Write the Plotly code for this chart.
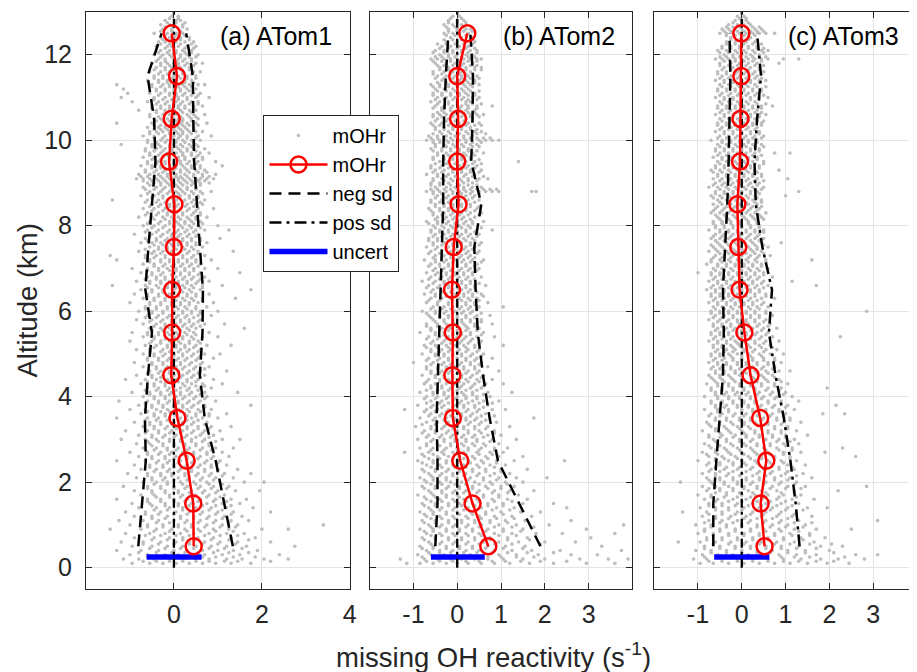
import plotly.graph_objects as go

# ---------------- data ----------------
ALT_BINS = [0.5, 1.5, 2.5, 3.5, 4.5, 5.5, 6.5, 7.5, 8.5, 9.5, 10.5, 11.5, 12.5]

A_MEAN = [0.45, 0.44, 0.29, 0.08, -0.06, -0.04, -0.04, 0.0, 0.01, -0.11, -0.05, 0.07, -0.05]
A_NEG = [-0.81, -0.73, -0.64, -0.66, -0.59, -0.5, -0.65, -0.58, -0.5, -0.42, -0.45, -0.6, -0.28]
A_POS = [1.34, 1.14, 0.95, 0.7, 0.59, 0.65, 0.66, 0.59, 0.53, 0.46, 0.44, 0.43, 0.28]

B_MEAN = [0.71, 0.35, 0.07, -0.10, -0.11, -0.10, -0.12, -0.08, 0.03, 0.0, 0.02, 0.0, 0.23]
B_NEG = [-0.5, -0.45, -0.45, -0.47, -0.44, -0.41, -0.38, -0.35, -0.32, -0.32, -0.30, -0.26, -0.20]
B_POS = [1.9, 1.41, 0.93, 0.74, 0.59, 0.47, 0.42, 0.39, 0.55, 0.32, 0.35, 0.36, 0.30]

C_MEAN = [0.52, 0.43, 0.56, 0.42, 0.2, 0.06, -0.05, -0.08, -0.1, -0.04, -0.03, -0.01, -0.01]
C_NEG = [-0.65, -0.65, -0.58, -0.5, -0.43, -0.41, -0.43, -0.38, -0.33, -0.3, -0.28, -0.26, -0.28]
C_POS = [1.32, 1.23, 1.11, 0.96, 0.77, 0.62, 0.69, 0.47, 0.32, 0.29, 0.35, 0.44, 0.35]

UNC_ALT = 0.25
A_UNC = [-0.62, 0.63]
B_UNC = [-0.60, 0.63]
C_UNC = [-0.63, 0.63]

ZERO_X = [0, 0]
ZERO_Y = [0, 13]

PANEL_LABELS = ["(a) ATom1", "(b) ATom2", "(c) ATom3"]
A_TICKS = [0, 2, 4]
A_TICKTEXT = ["0", "2", "4"]
BC_TICKS = [-1, 0, 1, 2, 3]
BC_TICKTEXT = ["-1", "0", "1", "2", "3"]
Y_TICKS = [0, 2, 4, 6, 8, 10, 12]

# individual mOHr points: each row = [altitude, x values...]
A_ROWS = [
    [12.9, -0.05, 0.1], [12.8, -0.2, 0.05, 0.15], [12.7, -0.3, -0.1, 0.0, 0.2],
    [12.6, -0.25, -0.05, 0.1, 0.3], [12.5, -0.45, -0.15, 0.05, 0.2],
    [12.4, -0.3, -0.1, 0.0, 0.15, 0.35], [12.3, -0.35, -0.2, 0.05, 0.25, 0.45],
    [12.2, -0.4, -0.15, -0.05, 0.1, 0.3, 0.5], [12.1, -0.3, -0.1, 0.05, 0.2, 0.4],
    [12.0, -0.45, -0.25, -0.1, 0.0, 0.15, 0.3, 0.55], [11.9, -0.35, -0.2, 0.1, 0.25, 0.4],
    [11.8, -0.5, -0.3, -0.15, 0.0, 0.1, 0.3, 0.5, 0.65], [11.7, -0.4, -0.2, -0.05, 0.15, 0.35],
    [11.6, -0.55, -0.3, -0.1, 0.05, 0.2, 0.45, 0.6], [11.5, -0.45, -0.25, 0.0, 0.1, 0.3, 0.5],
    [11.4, -0.6, -0.35, -0.15, 0.05, 0.25, 0.4],
    [11.3, -1.3, -0.5, -0.25, -0.1, 0.1, 0.2, 0.35, 0.55, 0.7],
    [11.2, -1.15, -0.4, -0.2, 0.0, 0.15, 0.3, 0.5],
    [11.1, -1.05, -0.55, -0.3, -0.1, 0.05, 0.25, 0.45, 0.6],
    [11.0, -1.2, -0.45, -0.2, 0.0, 0.1, 0.3, 0.5, 0.8],
    [10.9, -0.95, -0.6, -0.35, -0.15, 0.05, 0.2, 0.4, 0.55],
    [10.8, -0.5, -0.3, -0.1, 0.1, 0.25, 0.45, 0.65],
    [10.7, -0.8, -0.4, -0.2, 0.0, 0.15, 0.35, 0.5],
    [10.6, -0.55, -0.25, -0.1, 0.05, 0.3, 0.45, 0.7],
    [10.5, -0.45, -0.3, -0.15, 0.0, 0.1, 0.2, 0.4, 0.55],
    [10.4, -1.3, -0.5, -0.2, -0.05, 0.15, 0.3, 0.5, 0.75],
    [10.3, -0.6, -0.35, -0.2, 0.0, 0.1, 0.25, 0.45],
    [10.2, -0.55, -0.4, -0.25, -0.1, 0.05, 0.2, 0.35, 0.5, 0.65],
    [10.1, -0.7, -0.45, -0.2, 0.0, 0.15, 0.3, 0.55, 0.85],
    [10.0, -0.6, -0.3, -0.15, 0.05, 0.2, 0.4, 0.6],
    [9.9, -1.2, -0.5, -0.35, -0.1, 0.0, 0.15, 0.35, 0.5],
    [9.8, -0.65, -0.4, -0.2, -0.05, 0.1, 0.3, 0.45, 0.7],
    [9.7, -0.55, -0.3, -0.15, 0.05, 0.2, 0.4, 0.6, 0.8],
    [9.6, -0.7, -0.45, -0.25, -0.1, 0.1, 0.25, 0.5, 0.65],
    [9.5, -0.6, -0.35, -0.2, 0.0, 0.15, 0.35, 0.55, 0.95],
    [9.4, -0.75, -0.5, -0.3, -0.1, 0.05, 0.2, 0.4, 0.6, 1.1],
    [9.3, -0.65, -0.4, -0.2, 0.0, 0.15, 0.3, 0.5, 0.7],
    [9.2, -0.8, -0.55, -0.35, -0.15, 0.05, 0.25, 0.45, 0.65, 0.95],
    [9.1, -0.85, -0.7, -0.55, -0.4, -0.25, -0.1, 0.0, 0.1, 0.2, 0.35, 0.5, 0.6, 0.75, 0.9],
    [9.0, -0.6, -0.45, -0.3, -0.15, 0.0, 0.15, 0.3, 0.45, 0.6, 0.8],
    [8.9, -0.7, -0.4, -0.2, -0.05, 0.1, 0.3, 0.5],
    [8.8, -0.55, -0.3, -0.1, 0.05, 0.2, 0.4, 0.6, 0.85],
    [8.7, -0.75, -0.45, -0.25, 0.0, 0.15, 0.35, 0.55],
    [8.6, -1.4, -0.6, -0.35, -0.15, 0.05, 0.25, 0.45, 0.7],
    [8.5, -0.5, -0.3, -0.1, 0.1, 0.3, 0.5, 0.65],
    [8.4, -0.7, -0.45, -0.2, 0.0, 0.15, 0.35, 0.55, 0.9],
    [8.3, -0.6, -0.35, -0.15, 0.05, 0.2, 0.45, 0.6],
    [8.2, -0.8, -0.5, -0.25, -0.05, 0.1, 0.3, 0.5, 0.75],
    [8.1, -0.55, -0.3, -0.1, 0.05, 0.25, 0.4, 0.6],
    [8.0, -0.7, -0.45, -0.2, 0.0, 0.15, 0.35, 0.55, 1.0],
    [7.9, -0.6, -0.35, -0.1, 0.1, 0.3, 0.5, 0.7, 1.25],
    [7.8, -0.9, -0.5, -0.25, -0.05, 0.15, 0.35, 0.55],
    [7.7, -0.65, -0.4, -0.15, 0.05, 0.2, 0.4, 0.6, 1.05],
    [7.6, -0.75, -0.5, -0.3, -0.1, 0.1, 0.3, 0.5, 0.75],
    [7.5, -0.55, -0.35, -0.15, 0.0, 0.2, 0.4, 0.65],
    [7.4, -0.8, -0.45, -0.25, -0.05, 0.15, 0.35, 0.55, 1.35],
    [7.3, -1.45, -0.65, -0.4, -0.2, 0.0, 0.2, 0.45, 0.7],
    [7.2, -1.3, -0.55, -0.3, -0.1, 0.1, 0.3, 0.5, 0.85],
    [7.1, -0.7, -0.45, -0.2, 0.0, 0.2, 0.4, 0.6],
    [7.0, -0.95, -0.6, -0.35, -0.15, 0.05, 0.25, 0.45, 0.7, 1.0],
    [6.9, -0.75, -0.5, -0.25, 0.0, 0.15, 0.35, 0.6, 1.5],
    [6.8, -0.6, -0.4, -0.2, 0.05, 0.25, 0.45, 0.7],
    [6.7, -0.85, -0.55, -0.3, -0.1, 0.1, 0.3, 0.55, 0.8],
    [6.6, -1.4, -0.65, -0.4, -0.15, 0.05, 0.2, 0.4, 0.65, 1.1],
    [6.5, -0.75, -0.5, -0.25, 0.0, 0.15, 0.35, 0.6, 1.75],
    [6.4, -0.9, -0.6, -0.35, -0.1, 0.1, 0.3, 0.5, 0.8],
    [6.3, -0.7, -0.45, -0.2, 0.0, 0.2, 0.4, 0.65, 1.4],
    [6.2, -1.0, -0.55, -0.3, -0.05, 0.15, 0.35, 0.55, 0.9],
    [6.1, -0.65, -0.4, -0.15, 0.05, 0.25, 0.5, 0.75],
    [6.0, -0.8, -0.5, -0.25, 0.0, 0.2, 0.4, 0.6, 1.0],
    [5.9, -0.6, -0.35, -0.1, 0.1, 0.3, 0.55, 0.85],
    [5.8, -0.85, -0.5, -0.25, -0.05, 0.15, 0.35, 0.6],
    [5.7, -0.7, -0.4, -0.2, 0.05, 0.25, 0.45, 0.7, 1.15],
    [5.6, -0.55, -0.3, -0.1, 0.1, 0.3, 0.5, 1.6],
    [5.5, -0.95, -0.6, -0.35, -0.15, 0.05, 0.25, 0.45, 0.8],
    [5.4, -0.7, -0.45, -0.2, 0.0, 0.2, 0.4, 0.65, 1.0],
    [5.3, -1.0, -0.5, -0.3, -0.1, 0.1, 0.35, 0.55],
    [5.2, -0.65, -0.4, -0.15, 0.05, 0.25, 0.5, 0.75, 1.3],
    [5.1, -0.85, -0.55, -0.25, -0.05, 0.15, 0.35, 0.6],
    [5.0, -0.7, -0.45, -0.2, 0.0, 0.2, 0.45, 0.7, 1.05],
    [4.9, -0.6, -0.35, -0.1, 0.1, 0.3, 0.55, 0.9],
    [4.8, -0.9, -0.5, -0.25, -0.05, 0.15, 0.4, 0.65],
    [4.7, -0.7, -0.4, -0.15, 0.05, 0.25, 0.5, 0.8],
    [4.6, -0.55, -0.3, -0.1, 0.1, 0.35, 0.6, 1.2],
    [4.5, -0.85, -0.5, -0.25, 0.0, 0.2, 0.45, 0.7],
    [4.4, -1.1, -0.65, -0.4, -0.15, 0.05, 0.3, 0.55, 0.9],
    [4.3, -0.75, -0.45, -0.2, 0.0, 0.2, 0.4, 0.65, 1.1],
    [4.2, -0.6, -0.35, -0.1, 0.15, 0.35, 0.6, 0.85],
    [4.1, -0.95, -0.55, -0.3, -0.05, 0.15, 0.4, 0.7, 1.45],
    [4.0, -0.7, -0.45, -0.2, 0.05, 0.25, 0.5, 0.75],
    [3.9, -1.25, -0.6, -0.35, -0.1, 0.1, 0.35, 0.6, 0.95],
    [3.8, -0.8, -0.5, -0.25, 0.0, 0.2, 0.45, 0.7, 1.75],
    [3.7, -1.0, -0.65, -0.4, -0.15, 0.1, 0.3, 0.55, 0.85],
    [3.6, -0.75, -0.45, -0.2, 0.05, 0.25, 0.5, 0.8, 1.2],
    [3.5, -1.3, -0.6, -0.35, -0.1, 0.15, 0.4, 0.65, 1.0],
    [3.4, -0.9, -0.55, -0.3, 0.0, 0.2, 0.45, 0.75],
    [3.3, -0.7, -0.45, -0.15, 0.1, 0.3, 0.55, 0.85, 1.3],
    [3.2, -1.1, -0.6, -0.35, -0.05, 0.2, 0.45, 0.7, 1.05],
    [3.1, -0.8, -0.5, -0.2, 0.05, 0.3, 0.6, 0.9],
    [3.0, -1.2, -0.65, -0.4, -0.1, 0.15, 0.4, 0.7, 1.1, 1.5],
    [2.9, -0.85, -0.55, -0.25, 0.0, 0.25, 0.5, 0.8],
    [2.8, -0.7, -0.4, -0.15, 0.1, 0.35, 0.65, 0.95, 1.35],
    [2.7, -1.0, -0.6, -0.3, -0.05, 0.2, 0.45, 0.75, 1.1],
    [2.6, -0.8, -0.5, -0.2, 0.05, 0.3, 0.6, 0.9, 1.25],
    [2.5, -1.3, -0.65, -0.35, -0.1, 0.15, 0.45, 0.75, 1.05],
    [2.4, -0.9, -0.55, -0.25, 0.0, 0.3, 0.6, 0.85, 1.2],
    [2.3, -0.75, -0.4, -0.1, 0.15, 0.4, 0.7, 1.0, 1.45],
    [2.2, -1.05, -0.6, -0.3, -0.05, 0.25, 0.55, 0.85, 1.15, 1.75],
    [2.1, -0.85, -0.5, -0.2, 0.1, 0.35, 0.65, 0.95, 1.35],
    [2.0, -0.7, -0.4, -0.15, 0.15, 0.45, 0.75, 1.05, 1.6, 2.05],
    [1.9, -1.15, -0.6, -0.3, 0.0, 0.3, 0.6, 0.9, 1.25],
    [1.8, -0.9, -0.5, -0.2, 0.1, 0.4, 0.7, 1.0, 1.4, 1.95],
    [1.7, -0.75, -0.45, -0.1, 0.2, 0.5, 0.8, 1.15],
    [1.6, -1.3, -0.6, -0.3, 0.0, 0.3, 0.6, 0.95, 1.3, 1.65],
    [1.5, -0.95, -0.55, -0.2, 0.1, 0.4, 0.75, 1.1, 1.5],
    [1.4, -0.8, -0.4, -0.1, 0.2, 0.5, 0.85, 1.2, 1.8],
    [1.3, -1.1, -0.65, -0.3, 0.05, 0.35, 0.65, 1.0, 1.35, 2.2],
    [1.2, -0.9, -0.5, -0.15, 0.15, 0.45, 0.8, 1.15, 1.55],
    [1.1, -1.25, -0.7, -0.35, 0.0, 0.3, 0.6, 0.95, 1.3, 1.7],
    [1.0, -1.0, -0.6, -0.25, 0.1, 0.4, 0.75, 1.1, 1.45, 3.4],
    [0.9, -1.45, -0.75, -0.4, -0.05, 0.25, 0.55, 0.9, 1.25, 2.0, 2.6],
    [0.8, -1.1, -0.55, -0.2, 0.15, 0.45, 0.8, 1.2, 1.6],
    [0.7, -0.9, -0.45, -0.1, 0.2, 0.55, 0.9, 1.3, 1.85],
    [0.6, -1.2, -0.7, -0.3, 0.05, 0.35, 0.7, 1.05, 1.45, 2.2],
    [0.5, -0.95, -0.5, -0.15, 0.2, 0.5, 0.85, 1.2, 1.65, 2.75],
    [0.4, -1.3, -0.75, -0.35, 0.0, 0.3, 0.65, 1.0, 1.35, 1.9],
    [0.3, -1.0, -0.6, -0.2, 0.1, 0.4, 0.7, 1.1, 1.5, 2.4],
    [0.2, -1.15, -0.8, -0.45, -0.1, 0.2, 0.5, 0.8, 1.2, 1.55, 2.05, 2.6],
    [0.1, -0.95, -0.55, -0.25, 0.05, 0.35, 0.65, 0.95, 1.3, 1.75],
]

A_CORE_ROWS = [
    [12.85, -0.1, 0.1], [12.75, -0.15, 0.05, 0.25], [12.65, -0.2, 0.0, 0.2],
    [12.55, -0.3, -0.05, 0.15], [12.45, -0.2, 0.05, 0.25], [12.35, -0.25, -0.05, 0.15, 0.35],
    [12.25, -0.3, -0.1, 0.15, 0.4], [12.15, -0.2, 0.0, 0.25, 0.45],
    [12.05, -0.35, -0.15, 0.05, 0.25, 0.4], [11.95, -0.3, -0.05, 0.15, 0.35, 0.5],
    [11.85, -0.4, -0.2, 0.05, 0.2, 0.4], [11.75, -0.3, -0.1, 0.1, 0.25, 0.45],
    [11.65, -0.45, -0.2, 0.0, 0.15, 0.35], [11.55, -0.35, -0.15, 0.05, 0.2, 0.4],
    [11.45, -0.45, -0.25, -0.05, 0.15, 0.3, 0.5], [11.35, -0.35, -0.15, 0.05, 0.25, 0.45],
    [11.25, -0.5, -0.3, -0.1, 0.1, 0.25, 0.4], [11.15, -0.4, -0.2, 0.0, 0.15, 0.35],
    [11.05, -0.35, -0.1, 0.05, 0.2, 0.4, 0.55], [10.95, -0.45, -0.25, -0.05, 0.1, 0.3],
    [10.85, -0.4, -0.2, 0.0, 0.15, 0.35, 0.55], [10.75, -0.5, -0.3, -0.1, 0.1, 0.25, 0.45],
    [10.65, -0.4, -0.2, 0.0, 0.2, 0.4], [10.55, -0.55, -0.35, -0.05, 0.15, 0.35, 0.5],
    [10.45, -0.4, -0.25, -0.1, 0.05, 0.2, 0.4],
    [10.35, -0.45, -0.3, -0.1, 0.05, 0.2, 0.35, 0.55],
    [10.25, -0.45, -0.3, -0.15, 0.0, 0.15, 0.3, 0.45],
    [10.15, -0.55, -0.35, -0.1, 0.1, 0.2, 0.4], [10.05, -0.45, -0.25, -0.05, 0.1, 0.3, 0.5],
    [9.95, -0.6, -0.4, -0.2, 0.05, 0.25, 0.45], [9.85, -0.5, -0.3, -0.1, 0.05, 0.2, 0.4, 0.55],
    [9.75, -0.65, -0.45, -0.25, -0.05, 0.15, 0.3, 0.5],
    [9.65, -0.55, -0.35, -0.15, 0.0, 0.2, 0.4, 0.55],
    [9.55, -0.5, -0.3, -0.1, 0.1, 0.25, 0.45, 0.65],
    [9.45, -0.6, -0.4, -0.2, 0.0, 0.15, 0.3, 0.5],
    [9.35, -0.5, -0.3, -0.1, 0.05, 0.25, 0.4, 0.6],
    [9.25, -0.65, -0.45, -0.25, -0.05, 0.15, 0.35, 0.55, 0.75],
    [9.15, -0.75, -0.6, -0.45, -0.3, -0.15, 0.05, 0.15, 0.3, 0.45, 0.65, 0.8],
    [9.05, -0.7, -0.5, -0.35, -0.2, -0.05, 0.1, 0.25, 0.4, 0.55, 0.7],
    [8.95, -0.55, -0.3, -0.1, 0.05, 0.2, 0.4, 0.6],
    [8.85, -0.65, -0.45, -0.25, -0.05, 0.15, 0.3, 0.5],
    [8.75, -0.6, -0.35, -0.15, 0.1, 0.25, 0.45, 0.65],
    [8.65, -0.5, -0.25, -0.05, 0.1, 0.35, 0.55],
    [8.55, -0.65, -0.4, -0.2, 0.0, 0.2, 0.4, 0.6],
    [8.45, -0.55, -0.35, -0.1, 0.05, 0.25, 0.45], [8.35, -0.5, -0.25, -0.05, 0.1, 0.3, 0.5],
    [8.25, -0.65, -0.4, -0.15, 0.0, 0.2, 0.4, 0.6], [8.15, -0.45, -0.2, 0.0, 0.15, 0.35, 0.5],
    [8.05, -0.6, -0.35, -0.1, 0.1, 0.25, 0.45, 0.65], [7.95, -0.5, -0.25, 0.0, 0.2, 0.4, 0.6],
    [7.85, -0.65, -0.4, -0.15, 0.05, 0.25, 0.45], [7.75, -0.55, -0.3, -0.05, 0.1, 0.3, 0.5],
    [7.65, -0.6, -0.4, -0.2, 0.0, 0.2, 0.4, 0.6], [7.55, -0.45, -0.25, -0.05, 0.1, 0.3, 0.5],
    [7.45, -0.65, -0.35, -0.15, 0.05, 0.25, 0.45], [7.35, -0.5, -0.3, -0.1, 0.1, 0.3, 0.55],
    [7.25, -0.65, -0.45, -0.2, 0.0, 0.2, 0.4], [7.15, -0.55, -0.3, -0.1, 0.1, 0.3, 0.5],
    [7.05, -0.45, -0.25, -0.05, 0.15, 0.35, 0.55], [6.95, -0.6, -0.35, -0.1, 0.05, 0.25, 0.45],
    [6.85, -0.5, -0.3, -0.05, 0.15, 0.35, 0.55], [6.75, -0.65, -0.4, -0.2, 0.0, 0.2, 0.4, 0.6],
    [6.65, -0.55, -0.3, -0.05, 0.1, 0.3, 0.5], [6.55, -0.6, -0.35, -0.15, 0.05, 0.25, 0.45, 0.65],
    [6.45, -0.5, -0.25, 0.0, 0.2, 0.4], [6.35, -0.6, -0.35, -0.1, 0.1, 0.3, 0.5],
    [6.25, -0.45, -0.2, 0.05, 0.25, 0.45, 0.65], [6.15, -0.55, -0.3, -0.05, 0.15, 0.35],
    [6.05, -0.65, -0.4, -0.15, 0.1, 0.3, 0.5], [5.95, -0.5, -0.25, 0.0, 0.2, 0.4, 0.6],
    [5.85, -0.65, -0.4, -0.15, 0.05, 0.25, 0.45], [5.75, -0.55, -0.3, -0.05, 0.15, 0.35, 0.55],
    [5.65, -0.45, -0.2, 0.0, 0.2, 0.4, 0.6], [5.55, -0.5, -0.25, -0.05, 0.15, 0.35],
    [5.45, -0.6, -0.35, -0.1, 0.1, 0.3, 0.5], [5.35, -0.45, -0.2, 0.0, 0.2, 0.45],
    [5.25, -0.55, -0.3, -0.05, 0.15, 0.35, 0.6], [5.15, -0.45, -0.15, 0.05, 0.25, 0.45],
    [5.05, -0.55, -0.3, -0.1, 0.1, 0.3, 0.55], [4.95, -0.45, -0.25, 0.0, 0.2, 0.4, 0.6],
    [4.85, -0.6, -0.35, -0.15, 0.05, 0.25, 0.5], [4.75, -0.5, -0.25, -0.05, 0.15, 0.35, 0.6],
    [4.65, -0.4, -0.2, 0.0, 0.2, 0.45, 0.7], [4.55, -0.6, -0.35, -0.1, 0.1, 0.3, 0.55],
    [4.45, -0.5, -0.3, -0.05, 0.15, 0.4, 0.6], [4.35, -0.6, -0.3, -0.1, 0.1, 0.3, 0.5],
    [4.25, -0.45, -0.2, 0.0, 0.25, 0.5, 0.7], [4.15, -0.65, -0.4, -0.15, 0.05, 0.3, 0.55],
    [4.05, -0.55, -0.3, -0.1, 0.15, 0.35, 0.6], [3.95, -0.45, -0.2, 0.0, 0.2, 0.45, 0.7],
    [3.85, -0.65, -0.35, -0.15, 0.1, 0.3, 0.55], [3.75, -0.5, -0.25, 0.0, 0.2, 0.4, 0.7],
    [3.65, -0.6, -0.3, -0.1, 0.15, 0.35, 0.6], [3.55, -0.45, -0.2, 0.05, 0.3, 0.5, 0.8],
    [3.45, -0.65, -0.4, -0.15, 0.1, 0.3, 0.55], [3.35, -0.55, -0.3, -0.05, 0.2, 0.4, 0.7],
    [3.25, -0.45, -0.2, 0.05, 0.3, 0.55, 0.8], [3.15, -0.65, -0.35, -0.1, 0.15, 0.4, 0.65],
    [3.05, -0.5, -0.25, 0.0, 0.25, 0.5, 0.8], [2.95, -0.6, -0.35, -0.1, 0.15, 0.4, 0.65, 0.95],
    [2.85, -0.5, -0.25, 0.0, 0.25, 0.5, 0.8], [2.75, -0.45, -0.15, 0.05, 0.3, 0.6, 0.85],
    [2.65, -0.6, -0.35, -0.1, 0.2, 0.45, 0.75], [2.55, -0.5, -0.2, 0.0, 0.3, 0.55, 0.85],
    [2.45, -0.4, -0.15, 0.1, 0.4, 0.7, 1.0], [2.35, -0.55, -0.25, 0.0, 0.25, 0.55, 0.85],
    [2.25, -0.45, -0.15, 0.1, 0.4, 0.7, 1.0], [2.15, -0.6, -0.3, -0.05, 0.25, 0.5, 0.8, 1.1],
    [2.05, -0.5, -0.25, 0.0, 0.3, 0.6, 0.9], [1.95, -0.45, -0.15, 0.2, 0.5, 0.8, 1.1],
    [1.85, -0.6, -0.3, 0.0, 0.25, 0.55, 0.85, 1.2], [1.75, -0.5, -0.2, 0.1, 0.35, 0.65, 0.95],
    [1.65, -0.4, -0.1, 0.15, 0.45, 0.75, 1.05], [1.55, -0.6, -0.3, 0.0, 0.25, 0.55, 0.9, 1.2],
    [1.45, -0.5, -0.2, 0.1, 0.35, 0.65, 0.95, 1.3], [1.35, -0.45, -0.15, 0.2, 0.5, 0.8, 1.1],
    [1.25, -0.65, -0.35, 0.0, 0.3, 0.6, 0.95, 1.3], [1.15, -0.5, -0.2, 0.15, 0.45, 0.75, 1.1],
    [1.05, -0.4, -0.1, 0.25, 0.55, 0.9, 1.25], [0.95, -0.6, -0.25, 0.1, 0.4, 0.7, 1.05, 1.4],
    [0.85, -0.45, -0.1, 0.3, 0.6, 0.95, 1.35], [0.75, -0.65, -0.3, 0.05, 0.35, 0.7, 1.05, 1.45],
    [0.65, -0.5, -0.15, 0.2, 0.5, 0.85, 1.25, 1.7], [0.55, -0.7, -0.35, 0.0, 0.35, 0.65, 1.0, 1.4],
    [0.45, -0.55, -0.2, 0.15, 0.45, 0.8, 1.15, 1.55],
    [0.35, -0.8, -0.4, -0.05, 0.25, 0.55, 0.9, 1.25, 1.7],
    [0.25, -0.6, -0.3, 0.0, 0.3, 0.65, 0.95, 1.35, 1.85],
    [0.15, -0.7, -0.4, -0.1, 0.2, 0.5, 0.8, 1.15, 1.45, 2.2],
]

B_ROWS = [
    [12.9, -0.1, 0.05], [12.8, -0.2, 0.0, 0.15], [12.7, -0.3, -0.1, 0.1],
    [12.6, -0.2, 0.0, 0.2, 0.3], [12.5, -0.3, -0.1, 0.05, 0.25], [12.4, -0.15, 0.1, 0.35],
    [12.3, -0.25, 0.0, 0.2, 0.4], [12.2, -0.35, -0.15, 0.05, 0.25],
    [12.1, -0.5, -0.3, -0.1, 0.1, 0.3, 0.45], [12.0, -0.4, -0.2, 0.0, 0.2, 0.35],
    [11.9, -0.6, -0.45, -0.3, -0.15, 0.0, 0.15, 0.3, 0.45, 0.55],
    [11.8, -0.5, -0.25, -0.05, 0.15, 0.35], [11.7, -0.4, -0.2, 0.0, 0.2, 0.4, 0.55],
    [11.6, -0.55, -0.3, -0.1, 0.1, 0.3], [11.5, -0.45, -0.25, -0.05, 0.1, 0.25, 0.45],
    [11.4, -0.35, -0.15, 0.05, 0.2, 0.4], [11.3, -0.6, -0.4, -0.2, 0.0, 0.15, 0.3, 0.5],
    [11.2, -0.5, -0.3, -0.1, 0.1, 0.25], [11.1, -0.55, -0.35, -0.15, 0.05, 0.2, 0.4],
    [11.0, -0.45, -0.25, -0.05, 0.15, 0.35, 0.5], [10.9, -0.6, -0.4, -0.2, 0.0, 0.2, 0.3],
    [10.8, -0.5, -0.3, -0.1, 0.1, 0.25, 0.45, 0.8], [10.7, -0.35, -0.15, 0.05, 0.2, 0.4],
    [10.6, -0.55, -0.4, -0.25, -0.1, 0.0, 0.15, 0.3, 0.45, 0.6],
    [10.5, -0.45, -0.2, 0.0, 0.2, 0.35], [10.4, -0.6, -0.35, -0.15, 0.05, 0.25, 0.5],
    [10.3, -0.5, -0.3, -0.1, 0.1, 0.3], [10.2, -0.4, -0.2, 0.0, 0.2, 0.4, 0.55],
    [10.1, -0.65, -0.45, -0.25, -0.05, 0.15, 0.35],
    [10.0, -0.7, -0.55, -0.4, -0.25, -0.1, 0.05, 0.2, 0.35, 0.5, 0.65, 0.8, 0.95],
    [9.9, -0.5, -0.3, -0.1, 0.1, 0.3, 0.45], [9.8, -0.6, -0.35, -0.15, 0.05, 0.25],
    [9.7, -0.45, -0.25, -0.05, 0.15, 0.35, 0.6], [9.6, -0.55, -0.3, -0.1, 0.1, 0.3],
    [9.5, -0.4, -0.2, 0.0, 0.2, 0.4, 1.4], [9.4, -0.6, -0.35, -0.15, 0.05, 0.25, 0.45],
    [9.3, -0.5, -0.3, -0.1, 0.1, 0.3, 0.55], [9.2, -0.7, -0.45, -0.2, 0.0, 0.2, 0.4],
    [9.1, -0.55, -0.35, -0.15, 0.05, 0.25, 0.5, 0.7], [9.0, -0.6, -0.4, -0.2, 0.0, 0.15, 0.35],
    [8.9, -0.5, -0.25, -0.05, 0.15, 0.35, 0.55],
    [8.8, -0.7, -0.55, -0.4, -0.25, -0.1, 0.05, 0.2, 0.35, 0.5, 0.65, 0.8, 0.95, 1.7, 1.8],
    [8.7, -0.45, -0.2, 0.0, 0.2, 0.4], [8.6, -0.6, -0.35, -0.15, 0.05, 0.25, 0.5],
    [8.5, -0.5, -0.3, -0.1, 0.1, 0.3], [8.4, -0.65, -0.4, -0.2, 0.0, 0.2, 0.45],
    [8.3, -0.55, -0.3, -0.1, 0.1, 0.3, 0.55], [8.2, -0.45, -0.25, -0.05, 0.15, 0.4],
    [8.1, -0.7, -0.45, -0.2, 0.0, 0.2, 0.35, 0.6], [8.0, -0.55, -0.35, -0.15, 0.05, 0.25],
    [7.9, -0.6, -0.4, -0.2, 0.0, 0.2, 0.45, 0.8], [7.8, -0.5, -0.3, -0.1, 0.1, 0.3, 0.5],
    [7.7, -0.65, -0.45, -0.25, -0.05, 0.15, 0.35], [7.6, -0.55, -0.3, -0.1, 0.1, 0.3, 0.55],
    [7.5, -0.7, -0.45, -0.2, 0.0, 0.2, 0.4], [7.4, -0.6, -0.35, -0.15, 0.05, 0.25, 0.5],
    [7.3, -0.5, -0.3, -0.1, 0.1, 0.3], [7.2, -0.75, -0.5, -0.25, -0.05, 0.15, 0.35, 0.6],
    [7.1, -0.6, -0.4, -0.2, 0.0, 0.2, 0.45], [7.0, -0.5, -0.3, -0.1, 0.1, 0.3, 0.5],
    [6.9, -0.7, -0.45, -0.25, -0.05, 0.15, 0.35], [6.8, -0.6, -0.35, -0.15, 0.05, 0.25, 0.55],
    [6.7, -0.8, -0.5, -0.3, -0.1, 0.1, 0.3], [6.6, -0.65, -0.4, -0.2, 0.0, 0.2, 0.4, 0.65],
    [6.5, -0.55, -0.3, -0.1, 0.1, 0.3], [6.4, -0.75, -0.5, -0.25, -0.05, 0.15, 0.35, 0.55],
    [6.3, -0.6, -0.35, -0.15, 0.05, 0.25, 0.45], [6.2, -0.7, -0.45, -0.2, 0.0, 0.2, 0.4, 0.7],
    [6.1, -0.55, -0.3, -0.1, 0.1, 0.3, 0.5, 1.05], [6.0, -0.8, -0.5, -0.25, -0.05, 0.15, 0.35],
    [5.9, -0.65, -0.4, -0.2, 0.0, 0.2, 0.45, 0.75], [5.8, -0.55, -0.3, -0.1, 0.1, 0.3, 0.55],
    [5.7, -0.7, -0.45, -0.25, -0.05, 0.15, 0.4, 0.8], [5.6, -0.6, -0.35, -0.15, 0.05, 0.25, 0.5],
    [5.5, -0.85, -0.5, -0.3, -0.1, 0.1, 0.3, 0.6], [5.4, -0.65, -0.4, -0.2, 0.0, 0.2, 0.45, 0.85],
    [5.3, -0.55, -0.3, -0.1, 0.1, 0.3, 0.55], [5.2, -0.75, -0.5, -0.25, -0.05, 0.15, 0.4, 1.05],
    [5.1, -0.6, -0.35, -0.15, 0.05, 0.25, 0.5], [5.0, -0.8, -0.5, -0.3, -0.1, 0.1, 0.35, 0.6],
    [4.9, -0.65, -0.4, -0.2, 0.0, 0.2, 0.45, 0.8], [4.8, -1.0, -0.55, -0.3, -0.1, 0.1, 0.3, 0.55],
    [4.7, -0.7, -0.45, -0.25, -0.05, 0.15, 0.4, 0.7],
    [4.6, -0.6, -0.35, -0.15, 0.05, 0.25, 0.5, 0.95],
    [4.5, -0.8, -0.5, -0.3, -0.1, 0.1, 0.35, 0.6], [4.4, -0.65, -0.4, -0.2, 0.0, 0.2, 0.45, 0.8],
    [4.3, -0.75, -0.5, -0.25, -0.05, 0.15, 0.4, 0.65, 1.05],
    [4.2, -0.6, -0.35, -0.15, 0.05, 0.3, 0.55],
    [4.1, -0.85, -0.55, -0.3, -0.1, 0.1, 0.35, 0.7, 1.25],
    [4.0, -0.7, -0.45, -0.2, 0.0, 0.2, 0.45, 0.75],
    [3.9, -0.6, -0.35, -0.1, 0.1, 0.35, 0.6, 0.95],
    [3.8, -0.9, -0.55, -0.3, -0.05, 0.15, 0.4, 0.7],
    [3.7, -1.2, -0.7, -0.45, -0.2, 0.0, 0.25, 0.5, 0.8, 1.1],
    [3.6, -0.6, -0.35, -0.1, 0.1, 0.35, 0.65],
    [3.5, -0.85, -0.5, -0.25, -0.05, 0.2, 0.45, 0.75, 1.75],
    [3.4, -0.7, -0.45, -0.2, 0.05, 0.3, 0.55, 0.9],
    [3.3, -0.95, -0.6, -0.3, -0.1, 0.15, 0.4, 0.7, 1.2],
    [3.2, -0.75, -0.5, -0.2, 0.0, 0.25, 0.5, 0.85],
    [3.1, -0.65, -0.35, -0.1, 0.15, 0.4, 0.7, 1.0],
    [3.0, -0.9, -0.55, -0.3, -0.05, 0.2, 0.45, 0.8, 1.35],
    [2.9, -0.7, -0.45, -0.15, 0.1, 0.35, 0.6, 0.95],
    [2.8, -0.85, -0.55, -0.25, 0.0, 0.25, 0.55, 0.85, 1.15],
    [2.7, -1.2, -0.65, -0.35, -0.1, 0.15, 0.45, 0.75, 1.05],
    [2.6, -0.75, -0.45, -0.2, 0.05, 0.35, 0.65, 0.95, 1.5],
    [2.5, -0.9, -0.55, -0.25, 0.0, 0.25, 0.55, 0.9, 1.3, 2.45],
    [2.4, -0.7, -0.4, -0.1, 0.15, 0.45, 0.75, 1.1],
    [2.3, -0.8, -0.5, -0.2, 0.05, 0.35, 0.65, 1.0, 1.6],
    [2.2, -0.65, -0.35, -0.1, 0.2, 0.5, 0.85, 1.2],
    [2.1, -0.85, -0.55, -0.25, 0.0, 0.3, 0.6, 0.95, 1.35, 2.05],
    [2.0, -0.7, -0.4, -0.15, 0.1, 0.4, 0.75, 1.1, 1.5],
    [1.9, -0.8, -0.5, -0.2, 0.05, 0.35, 0.65, 1.0, 1.3],
    [1.8, -0.65, -0.35, -0.05, 0.2, 0.5, 0.85, 1.2, 1.75],
    [1.7, -0.9, -0.55, -0.25, 0.0, 0.3, 0.6, 0.95, 1.4],
    [1.6, -0.7, -0.4, -0.1, 0.15, 0.45, 0.8, 1.15, 1.6],
    [1.5, -0.8, -0.5, -0.2, 0.05, 0.35, 0.7, 1.05, 1.5, 2.2],
    [1.4, -0.65, -0.35, -0.05, 0.25, 0.55, 0.9, 1.3, 2.5],
    [1.3, -0.85, -0.55, -0.25, 0.0, 0.3, 0.65, 1.0, 1.45, 1.9],
    [1.2, -0.7, -0.4, -0.1, 0.2, 0.5, 0.85, 1.25, 1.7],
    [1.1, -0.8, -0.5, -0.2, 0.1, 0.4, 0.75, 1.1, 1.55, 2.6],
    [1.0, -0.65, -0.35, -0.05, 0.25, 0.55, 0.95, 1.35, 2.1, 3.8],
    [0.9, -0.85, -0.55, -0.25, 0.05, 0.35, 0.7, 1.05, 1.5, 2.95],
    [0.8, -0.7, -0.4, -0.1, 0.2, 0.5, 0.85, 1.25, 1.8, 2.4, 3.6],
    [0.7, -0.8, -0.5, -0.2, 0.1, 0.4, 0.75, 1.15, 1.6, 3.05],
    [0.6, -0.65, -0.35, -0.05, 0.25, 0.6, 0.95, 1.4, 2.0, 2.7],
    [0.5, -0.85, -0.55, -0.25, 0.05, 0.35, 0.7, 1.1, 1.55, 3.3],
    [0.4, -0.7, -0.4, -0.1, 0.2, 0.5, 0.85, 1.25, 1.7, 2.35, 3.75],
    [0.3, -0.9, -0.6, -0.3, 0.0, 0.3, 0.6, 0.95, 1.35, 1.85, 2.6, 3.2],
    [0.2, -1.3, -0.75, -0.45, -0.15, 0.1, 0.4, 0.7, 1.05, 1.5, 2.0, 2.8, 3.45, 3.9],
    [0.1, -1.15, -0.85, -0.55, -0.25, 0.0, 0.25, 0.55, 0.85, 1.2, 1.65, 2.2, 2.95, 3.6],
]

B_CORE_ROWS = [
    [12.85, -0.15, 0.1], [12.75, -0.2, 0.0, 0.2], [12.65, -0.25, -0.05, 0.15],
    [12.55, -0.2, 0.0, 0.15, 0.35], [12.45, -0.25, -0.05, 0.2], [12.35, -0.3, -0.1, 0.1, 0.3],
    [12.25, -0.45, -0.25, -0.05, 0.15, 0.35], [12.15, -0.4, -0.2, 0.0, 0.2, 0.4],
    [12.05, -0.55, -0.3, -0.1, 0.1, 0.25, 0.45],
    [11.95, -0.5, -0.35, -0.2, -0.05, 0.1, 0.25, 0.4],
    [11.85, -0.55, -0.35, -0.15, 0.05, 0.25, 0.45], [11.75, -0.45, -0.3, -0.1, 0.1, 0.3, 0.45],
    [11.65, -0.4, -0.2, 0.0, 0.2, 0.4, 0.55], [11.55, -0.55, -0.35, -0.15, 0.05, 0.2, 0.35],
    [11.45, -0.5, -0.3, -0.1, 0.1, 0.3, 0.5], [11.35, -0.45, -0.25, -0.05, 0.1, 0.25, 0.4],
    [11.25, -0.55, -0.4, -0.2, 0.0, 0.2, 0.35], [11.15, -0.45, -0.25, -0.05, 0.15, 0.3, 0.5],
    [11.05, -0.55, -0.35, -0.15, 0.05, 0.25, 0.4], [10.95, -0.5, -0.3, -0.1, 0.1, 0.25, 0.45],
    [10.85, -0.45, -0.2, 0.0, 0.2, 0.35, 0.55], [10.75, -0.55, -0.35, -0.15, 0.05, 0.25, 0.45],
    [10.65, -0.45, -0.3, -0.05, 0.1, 0.25, 0.4], [10.55, -0.55, -0.35, -0.1, 0.1, 0.3, 0.5],
    [10.45, -0.5, -0.25, -0.05, 0.15, 0.35], [10.35, -0.55, -0.4, -0.2, 0.0, 0.2, 0.4, 0.55],
    [10.25, -0.5, -0.3, -0.1, 0.1, 0.3, 0.45],
    [10.15, -0.55, -0.35, -0.15, 0.05, 0.25, 0.45, 0.65],
    [10.05, -0.6, -0.45, -0.3, -0.15, 0.0, 0.15, 0.3, 0.45, 0.6, 0.75],
    [9.95, -0.55, -0.4, -0.2, 0.0, 0.2, 0.35, 0.55], [9.85, -0.5, -0.25, -0.05, 0.15, 0.35, 0.5],
    [9.75, -0.55, -0.35, -0.15, 0.05, 0.25, 0.45], [9.65, -0.45, -0.2, 0.0, 0.2, 0.4],
    [9.55, -0.55, -0.3, -0.1, 0.1, 0.3, 0.5], [9.45, -0.5, -0.25, -0.05, 0.15, 0.35, 0.55],
    [9.35, -0.6, -0.4, -0.2, 0.0, 0.2, 0.4], [9.25, -0.55, -0.35, -0.1, 0.1, 0.3, 0.5],
    [9.15, -0.45, -0.25, -0.05, 0.15, 0.35, 0.6], [9.05, -0.55, -0.3, -0.1, 0.1, 0.25, 0.45],
    [8.95, -0.6, -0.4, -0.15, 0.05, 0.25, 0.45],
    [8.85, -0.6, -0.45, -0.3, -0.15, 0.0, 0.15, 0.3, 0.45, 0.6, 0.75, 0.9],
    [8.75, -0.55, -0.35, -0.1, 0.1, 0.3, 0.5], [8.65, -0.5, -0.25, -0.05, 0.15, 0.35],
    [8.55, -0.6, -0.4, -0.2, 0.0, 0.2, 0.4], [8.45, -0.5, -0.3, -0.1, 0.1, 0.3, 0.5],
    [8.35, -0.6, -0.4, -0.2, 0.0, 0.2, 0.4], [8.25, -0.55, -0.35, -0.15, 0.05, 0.25, 0.5],
    [8.15, -0.5, -0.3, -0.1, 0.1, 0.3], [8.05, -0.65, -0.45, -0.25, -0.05, 0.15, 0.35],
    [7.95, -0.5, -0.3, -0.1, 0.1, 0.3, 0.55], [7.85, -0.6, -0.4, -0.2, 0.0, 0.2, 0.4],
    [7.75, -0.55, -0.35, -0.15, 0.05, 0.25, 0.45], [7.65, -0.65, -0.45, -0.2, 0.0, 0.2, 0.4],
    [7.55, -0.55, -0.35, -0.1, 0.1, 0.3, 0.5], [7.45, -0.5, -0.25, -0.05, 0.15, 0.35],
    [7.35, -0.65, -0.4, -0.2, 0.0, 0.2, 0.45], [7.25, -0.55, -0.35, -0.15, 0.05, 0.25, 0.4],
    [7.15, -0.5, -0.3, -0.1, 0.1, 0.3, 0.55], [7.05, -0.65, -0.4, -0.2, 0.0, 0.2, 0.4],
    [6.95, -0.55, -0.35, -0.15, 0.05, 0.25, 0.45], [6.85, -0.5, -0.25, -0.05, 0.15, 0.35],
    [6.75, -0.65, -0.4, -0.2, 0.0, 0.2, 0.4], [6.65, -0.55, -0.3, -0.1, 0.1, 0.3, 0.5],
    [6.55, -0.7, -0.45, -0.2, 0.0, 0.2, 0.4], [6.45, -0.6, -0.35, -0.15, 0.05, 0.25, 0.45],
    [6.35, -0.5, -0.25, -0.05, 0.15, 0.35, 0.6], [6.25, -0.65, -0.4, -0.1, 0.1, 0.3, 0.5],
    [6.15, -0.45, -0.2, 0.0, 0.2, 0.4], [6.05, -0.6, -0.35, -0.15, 0.05, 0.25, 0.45],
    [5.95, -0.7, -0.5, -0.3, -0.1, 0.1, 0.3, 0.55], [5.85, -0.6, -0.4, -0.2, 0.0, 0.2, 0.4],
    [5.75, -0.5, -0.3, -0.1, 0.1, 0.3, 0.55], [5.65, -0.7, -0.45, -0.2, 0.0, 0.2, 0.4],
    [5.55, -0.6, -0.4, -0.2, 0.0, 0.2, 0.45], [5.45, -0.5, -0.3, -0.1, 0.1, 0.3, 0.55],
    [5.35, -0.7, -0.45, -0.25, -0.05, 0.15, 0.35], [5.25, -0.6, -0.35, -0.15, 0.05, 0.25, 0.5],
    [5.15, -0.7, -0.45, -0.2, 0.0, 0.2, 0.4], [5.05, -0.6, -0.4, -0.2, 0.0, 0.2, 0.45],
    [4.95, -0.5, -0.3, -0.1, 0.1, 0.3, 0.55], [4.85, -0.7, -0.45, -0.2, 0.0, 0.2, 0.4],
    [4.75, -0.6, -0.35, -0.15, 0.05, 0.3, 0.5], [4.65, -0.7, -0.45, -0.25, -0.05, 0.15, 0.4],
    [4.55, -0.6, -0.4, -0.2, 0.0, 0.2, 0.45], [4.45, -0.5, -0.3, -0.1, 0.1, 0.3, 0.55],
    [4.35, -0.7, -0.4, -0.15, 0.05, 0.25, 0.5], [4.25, -0.6, -0.35, -0.1, 0.1, 0.35, 0.6],
    [4.15, -0.7, -0.45, -0.2, 0.0, 0.2, 0.45], [4.05, -0.55, -0.3, -0.1, 0.15, 0.35, 0.6],
    [3.95, -0.75, -0.5, -0.25, -0.05, 0.2, 0.45],
    [3.85, -0.7, -0.4, -0.2, 0.05, 0.25, 0.5, 0.8], [3.75, -0.6, -0.35, -0.1, 0.15, 0.4, 0.6],
    [3.65, -0.75, -0.5, -0.25, 0.0, 0.2, 0.45], [3.55, -0.65, -0.4, -0.15, 0.1, 0.3, 0.55, 0.85],
    [3.45, -0.55, -0.3, -0.05, 0.2, 0.4, 0.65], [3.35, -0.8, -0.5, -0.25, 0.0, 0.25, 0.5],
    [3.25, -0.6, -0.35, -0.1, 0.15, 0.4, 0.65],
    [3.15, -0.8, -0.5, -0.25, 0.0, 0.25, 0.55, 0.85], [3.05, -0.7, -0.4, -0.15, 0.1, 0.35, 0.6],
    [2.95, -0.6, -0.3, -0.05, 0.2, 0.45, 0.75], [2.85, -0.7, -0.4, -0.15, 0.15, 0.4, 0.65],
    [2.75, -0.6, -0.3, 0.0, 0.25, 0.5, 0.85], [2.65, -0.8, -0.55, -0.3, -0.05, 0.2, 0.5, 0.8],
    [2.55, -0.65, -0.4, -0.1, 0.15, 0.4, 0.7], [2.45, -0.8, -0.55, -0.25, 0.0, 0.3, 0.6, 0.9],
    [2.35, -0.6, -0.35, -0.05, 0.2, 0.5, 0.85], [2.25, -0.75, -0.5, -0.25, 0.05, 0.35, 0.65, 1.0],
    [2.15, -0.6, -0.4, -0.1, 0.15, 0.45, 0.75], [2.05, -0.75, -0.55, -0.25, 0.0, 0.25, 0.6, 0.9],
    [1.95, -0.6, -0.35, -0.05, 0.2, 0.5, 0.8, 1.15],
    [1.85, -0.75, -0.5, -0.25, 0.05, 0.35, 0.7, 1.0],
    [1.75, -0.6, -0.35, -0.1, 0.15, 0.45, 0.8, 1.15],
    [1.65, -0.75, -0.5, -0.25, 0.05, 0.3, 0.6, 0.95],
    [1.55, -0.6, -0.35, -0.05, 0.2, 0.5, 0.85, 1.25], [1.45, -0.75, -0.5, -0.2, 0.1, 0.4, 0.7, 1.05],
    [1.35, -0.6, -0.4, -0.1, 0.15, 0.45, 0.8, 1.2],
    [1.25, -0.75, -0.55, -0.25, 0.05, 0.35, 0.65, 1.05],
    [1.15, -0.6, -0.35, -0.05, 0.25, 0.55, 0.9, 1.3], [1.05, -0.75, -0.5, -0.2, 0.1, 0.4, 0.75, 1.15],
    [0.95, -0.6, -0.4, -0.1, 0.2, 0.5, 0.85, 1.25, 1.75],
    [0.85, -0.75, -0.55, -0.25, 0.05, 0.35, 0.65, 1.05, 1.45],
    [0.75, -0.6, -0.35, -0.05, 0.25, 0.55, 0.95, 1.35],
    [0.65, -0.75, -0.5, -0.2, 0.1, 0.4, 0.75, 1.15, 1.65],
    [0.55, -0.6, -0.4, -0.1, 0.2, 0.5, 0.85, 1.25, 1.9],
    [0.45, -0.8, -0.55, -0.25, 0.05, 0.35, 0.65, 1.05, 1.5],
    [0.35, -0.65, -0.4, -0.15, 0.15, 0.45, 0.8, 1.15, 1.6, 2.2],
    [0.25, -0.8, -0.5, -0.25, 0.05, 0.35, 0.7, 1.0, 1.35, 1.75],
    [0.15, -0.7, -0.4, -0.1, 0.2, 0.5, 0.8, 1.1, 1.45, 1.9, 2.5],
]

C_ROWS = [
    [12.9, -0.1, 0.05], [12.8, -0.15, 0.0, 0.1], [12.7, -0.3, -0.1, 0.05, 0.2],
    [12.6, -0.45, -0.3, -0.15, 0.0, 0.15, 0.3, 0.45],
    [12.5, -0.5, -0.35, -0.2, -0.05, 0.1, 0.25, 0.4, 0.55, 0.75],
    [12.4, -0.25, 0.0, 0.2], [12.3, -0.35, -0.15, 0.1, 0.3],
    [12.2, -0.45, -0.25, -0.05, 0.15, 0.35],
    [12.1, -0.55, -0.35, -0.15, 0.05, 0.25, 0.45, 0.6], [12.0, -0.4, -0.2, 0.0, 0.2, 0.4],
    [11.9, -0.6, -0.45, -0.3, -0.15, 0.0, 0.15, 0.3, 0.45, 0.6, 0.95, 1.3],
    [11.8, -0.5, -0.25, -0.05, 0.15, 0.35, 0.85], [11.7, -0.4, -0.2, 0.0, 0.2, 0.4],
    [11.6, -0.55, -0.35, -0.1, 0.1, 0.3, 0.5], [11.5, -0.45, -0.25, -0.05, 0.15, 0.35],
    [11.4, -0.6, -0.4, -0.2, 0.0, 0.2, 0.4, 0.55], [11.3, -0.5, -0.3, -0.1, 0.1, 0.3],
    [11.2, -0.55, -0.35, -0.15, 0.05, 0.25, 0.45], [11.1, -0.45, -0.25, -0.05, 0.15, 0.35],
    [11.0, -0.6, -0.4, -0.2, 0.0, 0.2, 0.4, 0.6], [10.9, -0.5, -0.3, -0.1, 0.1, 0.3],
    [10.8, -0.55, -0.35, -0.15, 0.05, 0.25, 0.45, 0.7], [10.7, -0.45, -0.25, -0.05, 0.15, 0.35],
    [10.6, -0.6, -0.4, -0.2, 0.0, 0.2, 0.4, 0.55], [10.5, -0.5, -0.3, -0.1, 0.1, 0.3],
    [10.4, -0.55, -0.35, -0.15, 0.05, 0.25, 0.45], [10.3, -0.45, -0.25, -0.05, 0.15, 0.35],
    [10.2, -0.6, -0.4, -0.2, 0.0, 0.2, 0.4], [10.1, -0.5, -0.3, -0.1, 0.1, 0.3, 0.5],
    [10.0, -0.7, -0.45, -0.25, -0.05, 0.15, 0.35],
    [9.9, -0.55, -0.35, -0.15, 0.05, 0.25, 0.45], [9.8, -0.6, -0.4, -0.2, 0.0, 0.2, 0.4],
    [9.7, -0.5, -0.3, -0.1, 0.1, 0.3, 0.75, 1.1],
    [9.6, -0.65, -0.45, -0.25, -0.05, 0.15, 0.35],
    [9.5, -0.55, -0.35, -0.15, 0.05, 0.25, 0.5], [9.4, -0.6, -0.4, -0.2, 0.0, 0.2, 0.4],
    [9.3, -0.7, -0.5, -0.3, -0.1, 0.1, 0.3, 0.85],
    [9.2, -0.55, -0.35, -0.15, 0.05, 0.25, 0.45],
    [9.1, -0.65, -0.45, -0.25, -0.05, 0.15, 0.35, 1.05],
    [9.0, -0.6, -0.4, -0.2, 0.0, 0.2, 0.4],
    [8.9, -0.75, -0.55, -0.35, -0.15, 0.05, 0.25, 0.5],
    [8.8, -0.6, -0.4, -0.2, 0.0, 0.2, 0.35, 1.3],
    [8.7, -0.7, -0.5, -0.3, -0.1, 0.1, 0.3, 1.0],
    [8.6, -0.55, -0.35, -0.15, 0.05, 0.25, 0.45],
    [8.5, -0.65, -0.45, -0.25, -0.05, 0.15, 0.35], [8.4, -0.6, -0.4, -0.2, 0.0, 0.2, 0.4],
    [8.3, -0.7, -0.5, -0.3, -0.1, 0.1, 0.3, 0.55],
    [8.2, -0.55, -0.35, -0.15, 0.05, 0.25, 0.45],
    [8.1, -0.65, -0.45, -0.25, -0.05, 0.15, 0.35], [8.0, -0.6, -0.4, -0.2, 0.0, 0.2, 0.4],
    [7.9, -0.75, -0.5, -0.3, -0.1, 0.1, 0.3, 0.5], [7.8, -0.6, -0.4, -0.2, 0.0, 0.2, 0.4],
    [7.7, -0.7, -0.5, -0.3, -0.1, 0.1, 0.3, 0.5],
    [7.6, -0.55, -0.35, -0.15, 0.05, 0.25, 0.45, 0.9],
    [7.5, -0.65, -0.45, -0.25, -0.05, 0.15, 0.35, 0.6],
    [7.4, -0.75, -0.55, -0.35, -0.15, 0.05, 0.25, 0.45],
    [7.3, -0.6, -0.4, -0.2, 0.0, 0.2, 0.4, 0.65],
    [7.2, -0.7, -0.5, -0.3, -0.1, 0.1, 0.3, 0.55, 1.6],
    [7.1, -0.8, -0.55, -0.35, -0.15, 0.05, 0.25, 0.45],
    [7.0, -0.65, -0.45, -0.25, -0.05, 0.15, 0.35, 0.6],
    [6.9, -1.0, -0.7, -0.5, -0.3, -0.1, 0.1, 0.3, 0.5],
    [6.8, -0.6, -0.4, -0.2, 0.0, 0.2, 0.4, 0.7],
    [6.7, -0.75, -0.55, -0.35, -0.15, 0.05, 0.25, 0.5, 1.15],
    [6.6, -0.65, -0.45, -0.25, -0.05, 0.15, 0.35, 0.6, 1.7],
    [6.5, -0.8, -0.6, -0.4, -0.2, 0.0, 0.2, 0.4],
    [6.4, -0.7, -0.5, -0.3, -0.1, 0.1, 0.3, 0.55],
    [6.3, -0.6, -0.4, -0.2, 0.0, 0.2, 0.45, 0.75],
    [6.2, -0.75, -0.55, -0.35, -0.15, 0.05, 0.25, 0.5],
    [6.1, -0.65, -0.45, -0.25, -0.05, 0.15, 0.35, 0.6],
    [6.0, -0.7, -0.5, -0.3, -0.1, 0.1, 0.3, 0.55, 2.85],
    [5.9, -0.6, -0.4, -0.2, 0.0, 0.2, 0.4, 0.7],
    [5.8, -0.75, -0.5, -0.3, -0.1, 0.1, 0.3, 0.55],
    [5.7, -0.65, -0.45, -0.25, -0.05, 0.15, 0.4, 0.65],
    [5.6, -0.55, -0.35, -0.15, 0.05, 0.25, 0.5, 0.8],
    [5.5, -0.7, -0.5, -0.3, -0.1, 0.1, 0.35, 0.6],
    [5.4, -0.6, -0.4, -0.2, 0.0, 0.2, 0.45, 0.7, 2.25],
    [5.3, -0.75, -0.55, -0.35, -0.15, 0.05, 0.3, 0.55, 0.85],
    [5.2, -0.65, -0.45, -0.25, -0.05, 0.15, 0.4, 0.65],
    [5.1, -0.55, -0.35, -0.15, 0.05, 0.3, 0.55, 0.8],
    [5.0, -0.7, -0.5, -0.3, -0.1, 0.15, 0.4, 0.65, 0.95],
    [4.9, -0.6, -0.4, -0.2, 0.0, 0.25, 0.5, 0.75],
    [4.8, -0.75, -0.55, -0.35, -0.1, 0.1, 0.35, 0.6, 0.9],
    [4.7, -0.65, -0.45, -0.25, 0.0, 0.25, 0.5, 0.75],
    [4.6, -0.6, -0.4, -0.15, 0.05, 0.3, 0.55, 0.85, 1.1],
    [4.5, -0.75, -0.5, -0.3, -0.05, 0.2, 0.45, 0.7],
    [4.4, -0.65, -0.45, -0.2, 0.05, 0.3, 0.55, 0.85],
    [4.3, -0.8, -0.55, -0.3, -0.05, 0.2, 0.45, 0.75, 1.05],
    [4.2, -0.7, -0.45, -0.2, 0.05, 0.3, 0.6, 0.9, 1.95],
    [4.1, -0.6, -0.35, -0.1, 0.15, 0.4, 0.7, 1.0],
    [4.0, -0.85, -0.55, -0.3, -0.05, 0.2, 0.5, 0.8, 1.15],
    [3.9, -0.7, -0.45, -0.2, 0.05, 0.3, 0.6, 0.9, 1.3],
    [3.8, -0.6, -0.35, -0.1, 0.15, 0.45, 0.75, 1.05, 2.15],
    [3.7, -0.85, -0.55, -0.3, 0.0, 0.25, 0.55, 0.85, 1.2],
    [3.6, -0.7, -0.45, -0.15, 0.1, 0.4, 0.7, 1.0, 1.85, 2.35],
    [3.5, -0.6, -0.35, -0.05, 0.2, 0.5, 0.8, 1.1],
    [3.4, -0.8, -0.5, -0.25, 0.05, 0.3, 0.6, 0.95, 1.35],
    [3.3, -0.7, -0.4, -0.1, 0.15, 0.45, 0.75, 1.05],
    [3.2, -0.9, -0.6, -0.3, 0.0, 0.3, 0.6, 0.9, 1.25],
    [3.1, -0.75, -0.45, -0.15, 0.1, 0.4, 0.7, 1.0, 1.5],
    [3.0, -0.65, -0.35, -0.05, 0.25, 0.55, 0.85, 1.2],
    [2.9, -0.85, -0.55, -0.25, 0.05, 0.35, 0.65, 0.95, 1.3],
    [2.8, -0.7, -0.4, -0.1, 0.2, 0.5, 0.8, 1.15, 2.3],
    [2.7, -0.9, -0.6, -0.3, 0.0, 0.3, 0.6, 0.95, 1.35, 1.9],
    [2.6, -0.75, -0.45, -0.15, 0.15, 0.45, 0.75, 1.1, 2.6],
    [2.5, -1.0, -0.6, -0.3, 0.0, 0.3, 0.6, 0.9, 1.25],
    [2.4, -0.8, -0.5, -0.2, 0.1, 0.4, 0.7, 1.05, 1.45],
    [2.3, -0.7, -0.4, -0.1, 0.2, 0.5, 0.85, 1.2],
    [2.2, -0.9, -0.6, -0.3, 0.0, 0.35, 0.65, 1.0, 1.4],
    [2.1, -0.8, -0.5, -0.2, 0.1, 0.4, 0.75, 1.1, 1.6],
    [2.0, -1.4, -0.7, -0.4, -0.1, 0.25, 0.55, 0.9, 1.25],
    [1.9, -0.9, -0.6, -0.3, 0.05, 0.35, 0.7, 1.05, 1.45, 2.85],
    [1.8, -0.8, -0.5, -0.2, 0.15, 0.45, 0.8, 1.2, 2.2],
    [1.7, -1.0, -0.7, -0.35, 0.0, 0.3, 0.6, 0.95, 1.35],
    [1.6, -0.85, -0.55, -0.2, 0.1, 0.45, 0.8, 1.15, 1.65],
    [1.5, -0.75, -0.45, -0.1, 0.25, 0.55, 0.9, 1.3],
    [1.4, -0.95, -0.6, -0.3, 0.05, 0.4, 0.7, 1.05, 1.5, 1.95],
    [1.3, -1.35, -0.8, -0.45, -0.1, 0.25, 0.55, 0.9, 1.25],
    [1.2, -0.9, -0.6, -0.25, 0.1, 0.45, 0.8, 1.15, 1.6],
    [1.1, -0.75, -0.45, -0.1, 0.2, 0.55, 0.9, 1.3, 3.1],
    [1.0, -1.05, -0.7, -0.35, 0.0, 0.35, 0.7, 1.05, 1.45],
    [0.9, -0.85, -0.5, -0.15, 0.2, 0.5, 0.85, 1.2, 1.7, 2.5],
    [0.8, -1.0, -0.65, -0.3, 0.05, 0.4, 0.75, 1.1, 1.55],
    [0.7, -0.8, -0.45, -0.1, 0.25, 0.6, 0.95, 1.35, 1.9],
    [0.6, -1.45, -0.95, -0.6, -0.25, 0.1, 0.45, 0.8, 1.2, 1.65],
    [0.5, -0.85, -0.5, -0.15, 0.2, 0.55, 0.9, 1.3, 1.8, 2.3],
    [0.4, -1.05, -0.7, -0.35, 0.0, 0.35, 0.7, 1.05, 1.45, 2.0],
    [0.3, -0.9, -0.55, -0.2, 0.15, 0.5, 0.85, 1.25, 1.7, 2.6, 3.1],
    [0.2, -1.1, -0.8, -0.45, -0.1, 0.25, 0.6, 0.95, 1.35, 1.8, 2.2, 2.8],
    [0.1, -0.95, -0.65, -0.3, 0.05, 0.4, 0.75, 1.1, 1.5, 1.95, 2.45],
]

C_CORE_ROWS = [
    [12.85, -0.05, 0.1], [12.75, -0.2, 0.0, 0.15], [12.65, -0.35, -0.2, -0.05, 0.1, 0.25, 0.4],
    [12.55, -0.4, -0.25, -0.1, 0.05, 0.2, 0.35, 0.5], [12.45, -0.35, -0.15, 0.05, 0.3],
    [12.35, -0.25, -0.05, 0.15, 0.35], [12.25, -0.35, -0.15, 0.05, 0.25, 0.45],
    [12.15, -0.45, -0.25, -0.05, 0.15, 0.35, 0.5], [12.05, -0.5, -0.3, -0.1, 0.1, 0.3, 0.5],
    [11.95, -0.5, -0.35, -0.2, -0.05, 0.1, 0.25, 0.4, 0.55],
    [11.85, -0.4, -0.15, 0.05, 0.25, 0.45], [11.75, -0.5, -0.3, -0.1, 0.1, 0.3, 0.5],
    [11.65, -0.45, -0.25, -0.05, 0.15, 0.4], [11.55, -0.55, -0.35, -0.15, 0.05, 0.25, 0.45],
    [11.45, -0.5, -0.3, -0.1, 0.1, 0.3, 0.45], [11.35, -0.4, -0.2, 0.0, 0.2, 0.4],
    [11.25, -0.45, -0.25, -0.05, 0.15, 0.35, 0.55], [11.15, -0.55, -0.35, -0.15, 0.05, 0.25, 0.45],
    [11.05, -0.5, -0.3, -0.1, 0.1, 0.3, 0.5], [10.95, -0.4, -0.2, 0.0, 0.2, 0.4],
    [10.85, -0.45, -0.25, -0.05, 0.15, 0.35, 0.55], [10.75, -0.55, -0.35, -0.15, 0.05, 0.25, 0.45],
    [10.65, -0.5, -0.3, -0.1, 0.1, 0.3, 0.45], [10.55, -0.4, -0.2, 0.0, 0.2, 0.4],
    [10.45, -0.45, -0.25, -0.05, 0.15, 0.35, 0.5], [10.35, -0.55, -0.35, -0.15, 0.05, 0.25, 0.45],
    [10.25, -0.5, -0.3, -0.1, 0.1, 0.3], [10.15, -0.4, -0.2, 0.0, 0.2, 0.4],
    [10.05, -0.55, -0.35, -0.15, 0.05, 0.25, 0.45], [9.95, -0.45, -0.25, -0.05, 0.15, 0.35],
    [9.85, -0.5, -0.3, -0.1, 0.1, 0.3, 0.5], [9.75, -0.6, -0.4, -0.2, 0.0, 0.2, 0.4],
    [9.65, -0.55, -0.35, -0.15, 0.05, 0.25, 0.45], [9.55, -0.45, -0.25, -0.05, 0.15, 0.35],
    [9.45, -0.5, -0.3, -0.1, 0.1, 0.3, 0.5], [9.35, -0.6, -0.4, -0.2, 0.0, 0.2, 0.4],
    [9.25, -0.65, -0.45, -0.25, -0.05, 0.15, 0.35], [9.15, -0.55, -0.35, -0.15, 0.05, 0.25, 0.45],
    [9.05, -0.5, -0.3, -0.1, 0.1, 0.3, 0.5], [8.95, -0.65, -0.45, -0.25, -0.05, 0.15, 0.35],
    [8.85, -0.5, -0.3, -0.1, 0.1, 0.3, 0.45], [8.75, -0.6, -0.4, -0.2, 0.0, 0.2, 0.4],
    [8.65, -0.65, -0.45, -0.25, -0.05, 0.15, 0.35], [8.55, -0.5, -0.3, -0.1, 0.1, 0.3, 0.45],
    [8.45, -0.55, -0.35, -0.15, 0.05, 0.25, 0.45], [8.35, -0.65, -0.45, -0.25, -0.05, 0.15, 0.35],
    [8.25, -0.6, -0.4, -0.2, 0.0, 0.2, 0.4], [8.15, -0.5, -0.3, -0.1, 0.1, 0.3, 0.5],
    [8.05, -0.65, -0.45, -0.25, -0.05, 0.15, 0.35], [7.95, -0.6, -0.4, -0.2, 0.0, 0.2, 0.4],
    [7.85, -0.5, -0.3, -0.1, 0.1, 0.3, 0.5], [7.75, -0.65, -0.45, -0.25, -0.05, 0.15, 0.35],
    [7.65, -0.6, -0.4, -0.2, 0.0, 0.2, 0.4], [7.55, -0.7, -0.5, -0.3, -0.1, 0.1, 0.3, 0.5],
    [7.45, -0.6, -0.4, -0.2, 0.0, 0.2, 0.35], [7.35, -0.5, -0.3, -0.1, 0.1, 0.3, 0.5],
    [7.25, -0.65, -0.45, -0.25, -0.05, 0.15, 0.35],
    [7.15, -0.7, -0.45, -0.25, -0.05, 0.15, 0.35, 0.55],
    [7.05, -0.55, -0.35, -0.15, 0.05, 0.25, 0.45], [6.95, -0.6, -0.4, -0.2, 0.0, 0.2, 0.4],
    [6.85, -0.7, -0.5, -0.3, -0.1, 0.1, 0.3, 0.5], [6.75, -0.65, -0.45, -0.25, -0.05, 0.15, 0.35],
    [6.65, -0.55, -0.35, -0.15, 0.05, 0.25, 0.45], [6.55, -0.7, -0.5, -0.3, -0.1, 0.1, 0.3, 0.5],
    [6.45, -0.6, -0.4, -0.2, 0.0, 0.2, 0.4], [6.35, -0.7, -0.5, -0.3, -0.1, 0.1, 0.3, 0.55],
    [6.25, -0.65, -0.45, -0.25, -0.05, 0.15, 0.35], [6.15, -0.55, -0.35, -0.15, 0.05, 0.25, 0.45],
    [6.05, -0.6, -0.4, -0.2, 0.0, 0.2, 0.4], [5.95, -0.7, -0.5, -0.3, -0.1, 0.1, 0.3, 0.55],
    [5.85, -0.65, -0.45, -0.2, 0.0, 0.2, 0.4], [5.75, -0.55, -0.35, -0.1, 0.1, 0.3, 0.5],
    [5.65, -0.65, -0.45, -0.25, -0.05, 0.15, 0.35, 0.6], [5.55, -0.6, -0.4, -0.2, 0.0, 0.2, 0.45],
    [5.45, -0.7, -0.5, -0.3, -0.1, 0.1, 0.3, 0.55], [5.35, -0.65, -0.45, -0.25, -0.05, 0.2, 0.4],
    [5.25, -0.55, -0.35, -0.1, 0.1, 0.3, 0.5], [5.15, -0.65, -0.45, -0.2, 0.0, 0.2, 0.45, 0.7],
    [5.05, -0.6, -0.4, -0.2, 0.05, 0.25, 0.5], [4.95, -0.7, -0.5, -0.25, 0.0, 0.2, 0.45],
    [4.85, -0.65, -0.45, -0.2, 0.0, 0.25, 0.5, 0.75], [4.75, -0.55, -0.35, -0.1, 0.1, 0.35, 0.6],
    [4.65, -0.7, -0.5, -0.25, -0.05, 0.2, 0.45, 0.7], [4.55, -0.6, -0.4, -0.15, 0.1, 0.35, 0.6],
    [4.45, -0.7, -0.5, -0.25, 0.0, 0.25, 0.5, 0.75], [4.35, -0.6, -0.4, -0.15, 0.1, 0.35, 0.6, 0.9],
    [4.25, -0.55, -0.3, -0.05, 0.2, 0.45, 0.75], [4.15, -0.7, -0.45, -0.2, 0.05, 0.3, 0.55, 0.85],
    [4.05, -0.6, -0.4, -0.15, 0.1, 0.35, 0.65, 0.95], [3.95, -0.55, -0.3, -0.05, 0.2, 0.45, 0.75],
    [3.85, -0.7, -0.45, -0.2, 0.05, 0.3, 0.6, 0.9], [3.75, -0.6, -0.4, -0.1, 0.15, 0.4, 0.7, 1.0],
    [3.65, -0.55, -0.3, 0.0, 0.25, 0.55, 0.85], [3.55, -0.75, -0.5, -0.2, 0.05, 0.35, 0.65, 0.95],
    [3.45, -0.6, -0.35, -0.05, 0.2, 0.45, 0.8, 1.1], [3.35, -0.75, -0.5, -0.2, 0.05, 0.35, 0.6, 0.9],
    [3.25, -0.6, -0.35, -0.05, 0.2, 0.45, 0.75, 1.05], [3.15, -0.5, -0.25, 0.05, 0.3, 0.6, 0.9],
    [3.05, -0.75, -0.5, -0.2, 0.1, 0.4, 0.7, 1.0], [2.95, -0.6, -0.35, -0.05, 0.2, 0.5, 0.8, 1.1],
    [2.85, -0.75, -0.5, -0.2, 0.1, 0.35, 0.65, 1.0],
    [2.75, -0.6, -0.35, -0.05, 0.25, 0.55, 0.85, 1.15],
    [2.65, -0.8, -0.55, -0.25, 0.05, 0.35, 0.65, 0.95],
    [2.55, -0.6, -0.4, -0.1, 0.2, 0.45, 0.75, 1.1], [2.45, -0.75, -0.5, -0.2, 0.05, 0.35, 0.65, 0.95],
    [2.35, -0.6, -0.35, -0.05, 0.25, 0.55, 0.85, 1.15], [2.25, -0.75, -0.5, -0.2, 0.1, 0.4, 0.7, 1.05],
    [2.15, -0.6, -0.35, -0.05, 0.25, 0.55, 0.9, 1.25], [2.05, -0.75, -0.5, -0.2, 0.1, 0.4, 0.75, 1.05],
    [1.95, -0.65, -0.4, -0.1, 0.2, 0.5, 0.85, 1.2],
    [1.85, -0.75, -0.5, -0.2, 0.05, 0.35, 0.65, 1.0, 1.35],
    [1.75, -0.6, -0.35, -0.05, 0.25, 0.55, 0.9, 1.2], [1.65, -0.7, -0.4, -0.1, 0.2, 0.5, 0.85, 1.25],
    [1.55, -0.6, -0.3, 0.0, 0.35, 0.65, 1.0], [1.45, -0.75, -0.45, -0.15, 0.15, 0.45, 0.8, 1.15],
    [1.35, -0.6, -0.3, 0.0, 0.35, 0.65, 1.0, 1.4], [1.25, -0.75, -0.45, -0.15, 0.2, 0.5, 0.85, 1.2],
    [1.15, -0.6, -0.3, 0.05, 0.35, 0.7, 1.05],
    [1.05, -0.85, -0.5, -0.2, 0.15, 0.5, 0.85, 1.2, 1.6],
    [0.95, -0.7, -0.35, 0.0, 0.35, 0.65, 1.0, 1.4], [0.85, -0.85, -0.5, -0.15, 0.2, 0.55, 0.9, 1.3],
    [0.75, -0.65, -0.3, 0.05, 0.4, 0.75, 1.15, 1.55], [0.65, -0.8, -0.45, -0.1, 0.25, 0.6, 0.95, 1.4],
    [0.55, -0.65, -0.3, 0.05, 0.4, 0.75, 1.1, 1.55, 2.05],
    [0.45, -0.85, -0.5, -0.15, 0.2, 0.55, 0.9, 1.25, 1.7],
    [0.35, -0.7, -0.35, 0.0, 0.35, 0.65, 1.05, 1.45, 2.1],
    [0.25, -0.85, -0.5, -0.15, 0.2, 0.55, 0.9, 1.2, 1.55, 2.35],
    [0.15, -0.75, -0.45, -0.1, 0.25, 0.6, 0.95, 1.3, 1.7, 2.1],
]


def flatten(*row_lists):
    xs, ys = [], []
    for rows in row_lists:
        for r in rows:
            for v in r[1:]:
                xs.append(v)
                ys.append(r[0])
    return xs, ys


# ---------------- style ----------------
FONT = "Liberation Sans, Arial, Helvetica, sans-serif"
INK = "#262626"
GRAY = "#bdbdbd"
DASH = "12px,7px"
DASHDOT = "12px,5px,3px,5px"
ZERODASH = "9px,4px,3px,4px"

fig = go.Figure()

panels = [
    ("x", "y", (A_ROWS, A_CORE_ROWS), A_MEAN, A_NEG, A_POS, A_UNC, DASH),
    ("x2", "y2", (B_ROWS, B_CORE_ROWS), B_MEAN, B_NEG, B_POS, B_UNC, DASH),
    ("x3", "y3", (C_ROWS, C_CORE_ROWS), C_MEAN, C_NEG, C_POS, C_UNC, DASHDOT),
]

for i, (xa, ya, rows, mean, neg, pos, unc, posdash) in enumerate(panels):
    first = i == 0
    sx, sy = flatten(*rows)
    fig.add_trace(go.Scatter(
        x=sx, y=sy, xaxis=xa, yaxis=ya, mode="markers", name="mOHr",
        marker=dict(color=GRAY, size=3.6, line=dict(width=0)),
        showlegend=first, legendrank=1, hoverinfo="skip"))
    fig.add_trace(go.Scatter(
        x=unc, y=[UNC_ALT, UNC_ALT], xaxis=xa, yaxis=ya, mode="lines", name="uncert",
        line=dict(color="#0000ff", width=5.5), showlegend=first, legendrank=5))
    fig.add_trace(go.Scatter(
        x=ZERO_X, y=ZERO_Y, xaxis=xa, yaxis=ya, mode="lines",
        line=dict(color="black", width=2.3, dash=ZERODASH), showlegend=False))
    fig.add_trace(go.Scatter(
        x=neg, y=ALT_BINS, xaxis=xa, yaxis=ya, mode="lines", name="neg sd",
        line=dict(color="black", width=2.5, dash=DASH), showlegend=first, legendrank=3))
    fig.add_trace(go.Scatter(
        x=pos, y=ALT_BINS, xaxis=xa, yaxis=ya, mode="lines", name="pos sd",
        line=dict(color="black", width=2.5, dash=posdash), showlegend=False))
    fig.add_trace(go.Scatter(
        x=mean, y=ALT_BINS, xaxis=xa, yaxis=ya, mode="lines+markers", name="mOHr",
        line=dict(color="#ff0000", width=2.5),
        marker=dict(symbol="circle-open", size=16, color="#ff0000", line=dict(width=2.5)),
        showlegend=first, legendrank=2))

# legend-only entry for the dash-dot "pos sd" style
fig.add_trace(go.Scatter(
    x=[None], y=[None], mode="lines", name="pos sd",
    line=dict(color="black", width=2.5, dash=DASHDOT), showlegend=True, legendrank=4))

axis_common = dict(
    showline=True, linecolor=INK, linewidth=1, ticks="inside", ticklen=6,
    tickcolor=INK, tickwidth=1, showgrid=True, gridcolor="#e4e4e4", gridwidth=1,
    zeroline=False, tickfont=dict(family=FONT, size=25, color=INK),
)

# the page has an 8px body margin, so the figure is 8px smaller than the window
fig.update_layout(
    width=909, height=664,
    margin=dict(l=78, r=0, t=4, b=83),
    plot_bgcolor="white", paper_bgcolor="white",
    font=dict(family=FONT, color=INK),
    xaxis=dict(domain=[0, 0.3201], range=[-2, 4], tickvals=A_TICKS, ticktext=A_TICKTEXT,
               mirror="allticks", anchor="y", ticklabelstandoff=3, **axis_common),
    xaxis2=dict(domain=[0.3442, 0.6631], range=[-2, 4], tickvals=BC_TICKS, ticktext=BC_TICKTEXT,
                mirror="allticks", anchor="y2", ticklabelstandoff=3, **axis_common),
    xaxis3=dict(domain=[0.6895, 1.0], range=[-2, 3.84], tickvals=BC_TICKS, ticktext=BC_TICKTEXT,
                mirror="allticks", anchor="y3", ticklabelstandoff=3, **axis_common),
    yaxis=dict(domain=[0, 1], range=[-0.5, 13], tickvals=Y_TICKS, mirror="allticks",
               anchor="x", ticklabelstandoff=8, **axis_common),
    yaxis2=dict(domain=[0, 1], range=[-0.5, 13], tickvals=Y_TICKS, mirror="allticks",
                anchor="x2", showticklabels=False, **axis_common),
    yaxis3=dict(domain=[0, 1], range=[-0.5, 13], tickvals=Y_TICKS, mirror=False,
                anchor="x3", showticklabels=False, **axis_common),
    showlegend=True,
    legend=dict(x=0.2154, y=0.8215, xanchor="left", yanchor="top",
                bgcolor="white", bordercolor=INK, borderwidth=1,
                font=dict(family=FONT, size=20, color="black"), itemwidth=58,
                tracegroupgap=0),
)

annotations = []
for lab, xr, yr in zip(PANEL_LABELS, ["x", "x2", "x3"], ["y", "y2", "y3"]):
    annotations.append(dict(text=lab, x=1.0, y=12.45, xref=xr, yref=yr,
                            xanchor="left", yanchor="middle", showarrow=False,
                            font=dict(family=FONT, size=25, color="black")))
annotations.append(dict(text="missing OH reactivity (s<sup>-1</sup>)", x=0.4946, y=-0.1144,
                        xref="paper", yref="paper", xanchor="center", yanchor="middle",
                        showarrow=False, font=dict(family=FONT, size=27.5, color=INK)))
annotations.append(dict(text="Altitude (km)", x=-0.071, y=0.5009, xref="paper", yref="paper",
                        xanchor="center", yanchor="middle", textangle=-90, showarrow=False,
                        font=dict(family=FONT, size=27.5, color=INK)))
fig.update_layout(annotations=annotations)

fig.write_html("out.html")
